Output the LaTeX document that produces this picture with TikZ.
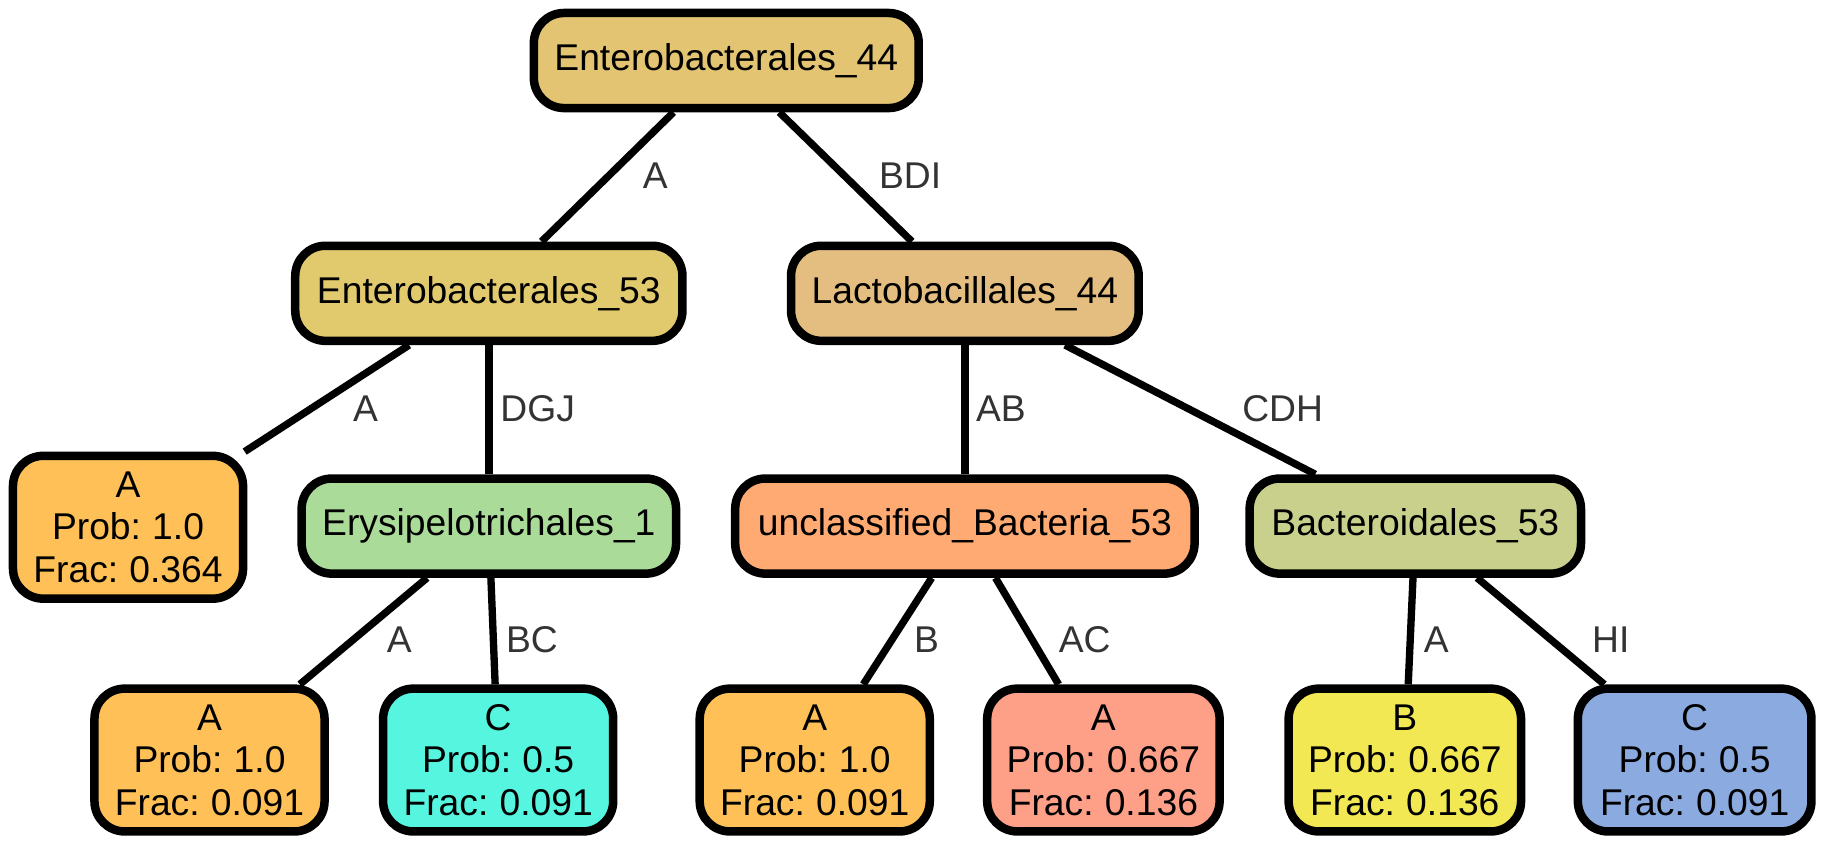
\documentclass[tikz,border=0pt]{standalone}
\usepackage{fontspec}
\setmainfont[WordSpace=0.75]{Liberation Sans}
\definecolor{cTop}{HTML}{E2C473}
\definecolor{cEnt}{HTML}{E1C96E}
\definecolor{cLac}{HTML}{E4BE80}
\definecolor{cLeafA}{HTML}{FEC057}
\definecolor{cEry}{HTML}{AADB98}
\definecolor{cCyan}{HTML}{55F5E0}
\definecolor{cUnc}{HTML}{FEAA72}
\definecolor{cSalmon}{HTML}{FE9F88}
\definecolor{cBac}{HTML}{C8D08C}
\definecolor{cYel}{HTML}{F2E853}
\definecolor{cBlue}{HTML}{8BAADF}
\definecolor{labgray}{HTML}{333333}
\begin{document}
\begin{tikzpicture}[x=1pt,y=-1pt,
  box/.style={draw=black, line width=7.3pt, rounded corners=26pt,
    font=\fontsize{32}{36.5}\selectfont, align=center, inner sep=0pt,
    minimum height=81.7pt},
  leafbox/.style={box, minimum height=122.7pt, minimum width=197.7pt},
  edgeline/.style={line width=6.3pt, black},
  elabel/.style={font=\fontsize{32}{36}\selectfont, text=labgray, inner sep=0pt}
]
\useasboundingbox (0,0) rectangle (1568,727);

% internal nodes
\node[box, fill=cTop, minimum width=330.7pt] (n0) at (624,52) {Enterobacterales\_44};
\node[box, fill=cEnt, minimum width=332.7pt] (n1) at (420,252) {Enterobacterales\_53};
\node[box, fill=cLac, minimum width=298.7pt] (n2) at (829,252) {Lactobacillales\_44};
\node[box, fill=cEry, minimum width=321.7pt] (n3) at (420,452) {Erysipelotrichales\_1};
\node[box, fill=cUnc, minimum width=394.7pt] (n4) at (829,452) {unclassified\_Bacteria\_53};
\node[box, fill=cBac, minimum width=284.7pt] (n5) at (1216,452) {Bacteroidales\_53};

% leaves
\node[leafbox, fill=cLeafA] (l1) at (110,453) {A\\Prob: 1.0\\Frac: 0.364};
\node[leafbox, fill=cLeafA] (l2) at (180,653) {A\\Prob: 1.0\\Frac: 0.091};
\node[leafbox, fill=cCyan] (l3) at (428,653) {C\\Prob: 0.5\\Frac: 0.091};
\node[leafbox, fill=cLeafA] (l4) at (700,653) {A\\Prob: 1.0\\Frac: 0.091};
\node[leafbox, fill=cSalmon, minimum width=199.7pt] (l5) at (948,653) {A\\Prob: 0.667\\Frac: 0.136};
\node[leafbox, fill=cYel, minimum width=199.7pt] (l6) at (1207,653) {B\\Prob: 0.667\\Frac: 0.136};
\node[leafbox, fill=cBlue, minimum width=200.7pt] (l7) at (1456,653) {C\\Prob: 0.5\\Frac: 0.091};

% edges
\draw[edgeline] (n0) -- (n1);
\draw[edgeline] (n0) -- (n2);
\draw[edgeline] (n1) -- (l1);
\draw[edgeline] (n1) -- (n3);
\draw[edgeline] (n2) -- (n4);
\draw[edgeline] (n2) -- (n5);
\draw[edgeline] (n3) -- (l2);
\draw[edgeline] (n3) -- (l3);
\draw[edgeline] (n4) -- (l4);
\draw[edgeline] (n4) -- (l5);
\draw[edgeline] (n5) -- (l6);
\draw[edgeline] (n5) -- (l7);

% edge labels
\node[elabel] (e01) at (563,151) {A};
\node[elabel] (e02) at (782,151) {BDI};
\node[elabel] (e11) at (314,351) {A};
\node[elabel] (e13) at (462,351) {DGJ};
\node[elabel] (e24) at (860,351) {AB};
\node[elabel] (e25) at (1102,351) {CDH};
\node[elabel] (e32) at (343,550) {A};
\node[elabel] (e33) at (457,550) {BC};
\node[elabel] (e44) at (796,550) {B};
\node[elabel] (e45) at (932,550) {AC};
\node[elabel] (e56) at (1234,550) {A};
\node[elabel] (e57) at (1384,550) {HI};
\end{tikzpicture}
\end{document}
